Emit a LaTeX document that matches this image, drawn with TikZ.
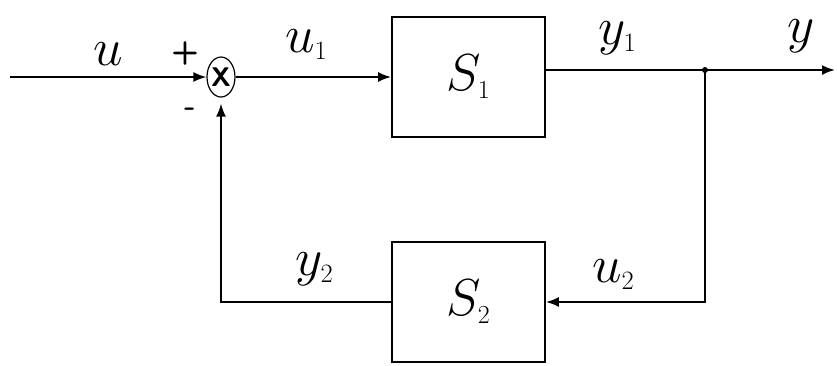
\RequirePackage{fix-cm}
\documentclass[tikz,border=0pt]{standalone}
\usepackage{fontspec}
\usetikzlibrary{shapes.geometric, positioning, arrows.meta, calc}

\begin{document}
\begin{tikzpicture}[
    x=1pt, y=-1pt,
    block/.style={
        draw=black, line width=1.9pt, fill=white,
        minimum width=153pt, minimum height=120pt, inner sep=0pt,
        font=\fontsize{52}{57}\selectfont
    },
    sumnode/.style={
        draw=black, line width=1.2pt, ellipse,
        minimum width=28pt, minimum height=40pt, inner sep=0pt,
        font=\sffamily\bfseries\fontsize{27}{27}\selectfont
    },
    arrow/.style={-{Latex[length=13pt, width=10pt]}, line width=1.8pt},
    wire/.style={line width=1.8pt},
    siglabel/.style={font=\fontsize{53}{58}\selectfont, inner sep=0pt, anchor=base west},
    signlabel/.style={font=\sffamily\bfseries\fontsize{32}{32}\selectfont, inner sep=0pt},
]
\useasboundingbox (0,0) rectangle (837,365);

% Summing junction
\node[sumnode] (sum) at (221,77) {X};
\node[signlabel] (plus) at (185,53) {+};
\node[signlabel] (minus) at (190,112) {-};

% Blocks
\node[block] (S1) at (468.5,77) {\raisebox{6pt}{$S_{\scriptscriptstyle 1}$}};
\node[block] (S2) at (468.5,302) {\raisebox{3pt}{$S_{\scriptscriptstyle 2}$}};

% Free ends and branch point
\coordinate (in) at (10,77);
\coordinate (jn) at (705,70);
\coordinate (out) at (835,70);

% Forward path
\draw[arrow] (in) -- (sum.west);
\draw[arrow] (sum.east) -- (S1.west);
\draw[wire] ([yshift=7pt]S1.east) -- (jn);
\draw[arrow] (jn) -- (out);
\fill (jn) circle (3pt);

% Feedback path
\draw[arrow] (jn) |- (S2.east);
\draw[arrow] (S2.west) -| ([yshift=-6pt]sum.south);

% Signal labels
\node[siglabel] (lu) at (93,65) {$u$};
\node[siglabel] (lu1) at (285,52) {$u_{\scriptscriptstyle 1}$};
\node[siglabel] (ly1) at (598,44) {$y_{\scriptscriptstyle 1}$};
\node[siglabel] (ly) at (787,42) {$y$};
\node[siglabel] (ly2) at (295,275) {$y_{\scriptscriptstyle 2}$};
\node[siglabel] (lu2) at (592,282) {$u_{\scriptscriptstyle 2}$};

\end{tikzpicture}
\end{document}
